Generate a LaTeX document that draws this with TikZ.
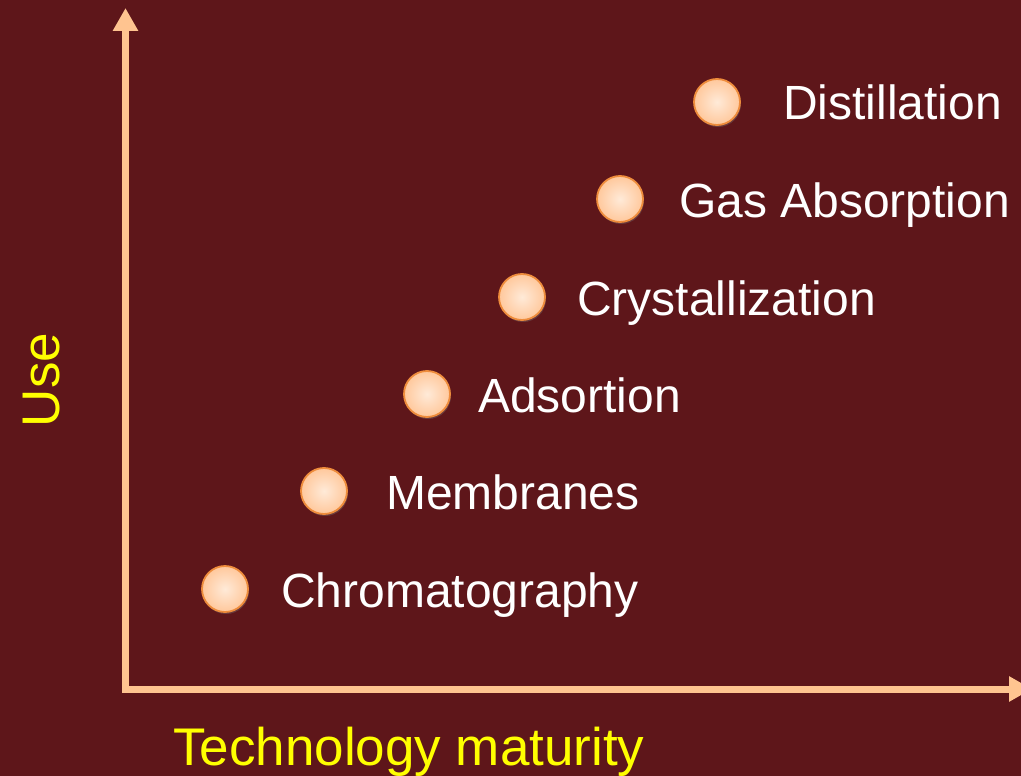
\documentclass[tikz,border=0pt]{standalone}
\usepackage{fontspec}
\setmainfont{Liberation Sans}
\usepackage{xcolor}
\definecolor{slidebg}{RGB}{94,22,26}
\definecolor{axispeach}{RGB}{255,196,144}
\definecolor{ballrim}{RGB}{238,140,60}
\definecolor{ballcore}{RGB}{255,234,216}
\definecolor{ballouter}{RGB}{255,200,156}
\definecolor{axisyellow}{RGB}{255,255,0}
\usetikzlibrary{arrows.meta,positioning,shadows}

\begin{document}
\begin{tikzpicture}[
  x=1pt, y=-1pt,
  axisline/.style={line width=7pt, draw=axispeach, -{Triangle[width=24pt, length=23pt]}},
  techball/.style={
    circle, minimum size=46pt, inner sep=0pt,
    draw=ballrim, line width=1.8pt,
    inner color=ballcore, outer color=ballouter,
    drop shadow={opacity=0.35, shadow xshift=1pt, shadow yshift=-2pt}
  },
  techname/.style={anchor=base west, inner sep=0pt, text=white,
    font=\fontsize{48}{50}\selectfont},
  axisname/.style={inner sep=0pt, text=axisyellow,
    font=\fontsize{53}{55}\selectfont}
]
\fill[slidebg] (0,0) rectangle (1021,776);
\useasboundingbox (0,0) rectangle (1021,776);

% axes
\coordinate (origin) at (125.5,689);
\coordinate (ytop)   at (125.5,8);
\coordinate (xend)   at (1032,689);
\draw[axisline] (origin) -- (ytop);
\draw[axisline] ([xshift=-3.5pt]origin) -- (xend);

\node[axisname, anchor=base west] (xlab) at (173,765) {Technology maturity};
\node[axisname, rotate=90, anchor=base] (ylab) at (59,380) {Use};

% separation techniques
\node[techball] (dist)  at (717,102) {};
\node[techball] (gas)   at (620,199) {};
\node[techball] (cryst) at (522,297) {};
\node[techball] (ads)   at (427,394) {};
\node[techball] (memb)  at (324,491) {};
\node[techball] (chrom) at (225,589) {};

\node[techname] (distl)  at (783,120) {Distillation};
\node[techname] (gasl)   at (679,217) {Gas Absorption};
\node[techname] (crystl) at (577,315) {Crystallization};
\node[techname] (adsl)   at (478,412) {Adsortion};
\node[techname] (membl)  at (386,509) {Membranes};
\node[techname] (chroml) at (281,607) {Chromatography};
\end{tikzpicture}
\end{document}
